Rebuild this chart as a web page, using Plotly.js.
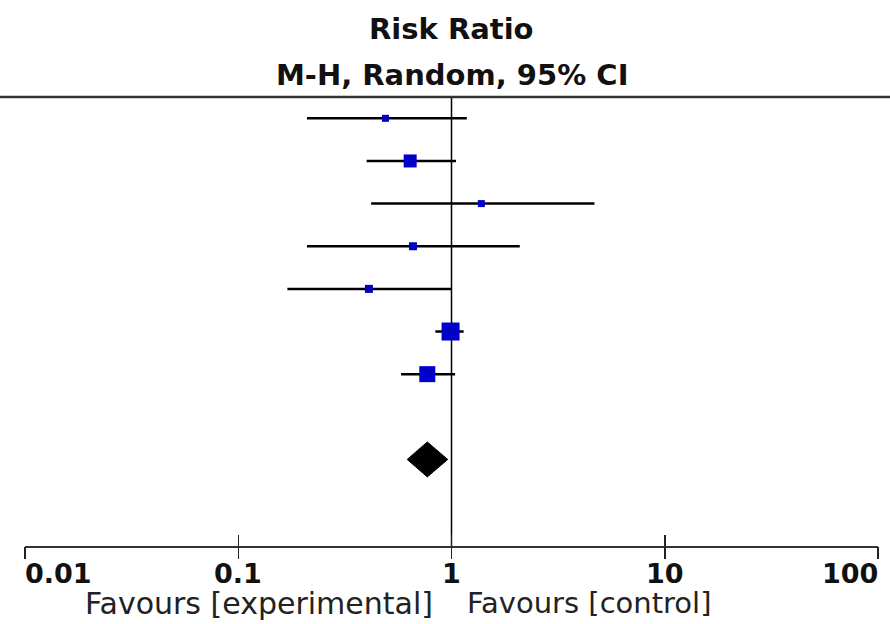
<!DOCTYPE html>
<html>
<head>
<meta charset="utf-8">
<script src="https://cdn.plot.ly/plotly-3.0.1.min.js"></script>
<style>html,body{margin:0;padding:0;background:#fff;}#chart{width:890px;height:624px;}</style>
</head>
<body>
<div id="chart"></div>
<script>
// Study rows (1 = top)
const rows      = [1, 2, 3, 4, 5, 6, 7];
const estimates = [0.49, 0.64, 1.38, 0.66, 0.41, 0.99, 0.77];
const ciLow     = [0.21, 0.40, 0.42, 0.21, 0.17, 0.84, 0.58];
const ciHigh    = [1.18, 1.05, 4.68, 2.09, 1.00, 1.14, 1.04];
const weights   = [7, 13, 7, 8, 8, 18, 16];   // marker size (study weight)

// Pooled estimate (diamond)
const pooledRow = 9;
const pooledEst = 0.77;
const pooledLow = 0.62;
const pooledHigh = 0.96;

const tickVals   = [0.01, 0.1, 1, 10, 100];
const tickLabels = ['0.01', '0.1', '1', '10', '100'];

const titleLines = ['Risk Ratio', 'M-H, Random, 95% CI'];
const favourLeft = 'Favours [experimental]';
const favourRight = 'Favours [control]';

// y range (reversed)
const yTop = 0.50, yBottom = 11.03;

const font = 'DejaVu Sans, Verdana, sans-serif';

// CI lines
const ciX = [], ciY = [];
rows.forEach((r, i) => { ciX.push(ciLow[i], ciHigh[i], null); ciY.push(r, r, null); });

const diamondHalf = 0.41;

const traces = [
  { type: 'scatter', mode: 'lines', x: [1, 1], y: [yTop, yBottom],
    line: { color: '#000', width: 1.5 }, hoverinfo: 'skip', showlegend: false },
  { type: 'scatter', mode: 'lines', x: ciX, y: ciY,
    line: { color: '#000', width: 2.5 }, hoverinfo: 'skip', showlegend: false },
  { type: 'scatter', mode: 'markers', x: estimates, y: rows,
    marker: { symbol: 'square', size: weights, color: '#0000c8', opacity: 1, line: { width: 0 } },
    showlegend: false },
  { type: 'scatter', mode: 'lines', fill: 'toself',
    x: [pooledLow, pooledEst, pooledHigh, pooledEst, pooledLow],
    y: [pooledRow, pooledRow - diamondHalf, pooledRow, pooledRow + diamondHalf, pooledRow],
    fillcolor: '#000', line: { color: '#000', width: 1 }, showlegend: false },
  // dummy trace for the overlaying tick axis
  { type: 'scatter', mode: 'markers', x: [1], y: [1], xaxis: 'x2',
    marker: { opacity: 0 }, hoverinfo: 'skip', showlegend: false }
];

const annotations = [];
tickVals.forEach((v, i) => {
  const anchor = i === 0 ? 'left' : (i === tickVals.length - 1 ? 'right' : 'center');
  annotations.push({ xref: 'x', yref: 'paper', x: Math.log10(v), y: 0, yanchor: 'middle',
    xanchor: anchor, yshift: -27, xshift: i === 0 ? -2 : (i === tickVals.length - 1 ? 2 : 0),
    text: '<b>' + tickLabels[i] + '</b>', showarrow: false,
    font: { family: font, size: 27, color: '#111' } });
});
annotations.push({ xref: 'x', yref: 'paper', x: 0, y: 0, xanchor: 'right', yanchor: 'middle',
  xshift: -17, yshift: -57, text: favourLeft, showarrow: false,
  font: { family: font, size: 30, color: '#222' } });
annotations.push({ xref: 'x', yref: 'paper', x: 0, y: 0, xanchor: 'left', yanchor: 'middle',
  xshift: 13, yshift: -57, text: favourRight, showarrow: false,
  font: { family: font, size: 29, color: '#222' } });
annotations.push({ xref: 'paper', yref: 'paper', x: 0.5, y: 1, xanchor: 'center', yanchor: 'middle',
  yshift: 68, xshift: 0, text: '<b>' + titleLines[0] + '</b>', showarrow: false,
  font: { family: font, size: 29, color: '#111' } });
annotations.push({ xref: 'paper', yref: 'paper', x: 0.5, y: 1, xanchor: 'center', yanchor: 'middle',
  yshift: 22, xshift: 0, text: '<b>' + titleLines[1] + '</b>', showarrow: false,
  font: { family: font, size: 29, color: '#111' } });

const plotW = 890 - 25 - 12;

const layout = {
  width: 890, height: 624,
  margin: { l: 25, r: 12, t: 97, b: 78 },
  paper_bgcolor: '#fff', plot_bgcolor: '#fff',
  showlegend: false,
  xaxis: { type: 'log', range: [-2, 2], tickvals: tickVals, showticklabels: false,
    ticks: 'inside', ticklen: 11, tickwidth: 1.5, tickcolor: '#222',
    showline: true, linecolor: '#333', linewidth: 2, showgrid: false, zeroline: false,
    fixedrange: true },
  xaxis2: { type: 'log', range: [-2, 2], overlaying: 'x', side: 'bottom', anchor: 'y',
    tickvals: tickVals, showticklabels: false,
    ticks: 'outside', ticklen: 12, tickwidth: 1.5, tickcolor: '#222',
    showline: false, showgrid: false, zeroline: false },
  yaxis: { range: [yBottom, yTop], visible: false, showgrid: false, zeroline: false },
  shapes: [
    { type: 'line', xref: 'paper', yref: 'paper', x0: -25 / plotW, x1: 1 + 12 / plotW, y0: 1, y1: 1,
      line: { color: '#333', width: 2.5 } }
  ],
  annotations: annotations
};

Plotly.newPlot('chart', traces, layout, { staticPlot: true, displayModeBar: false });
</script>
</body>
</html>
